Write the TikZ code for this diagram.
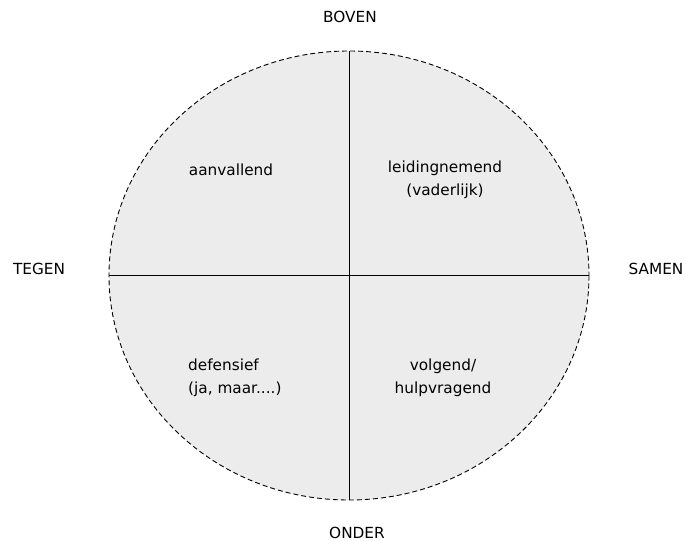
\documentclass[tikz,border=0pt]{standalone}
\usepackage{fontspec}
\setmainfont{DejaVu Sans}
\begin{document}
\begin{tikzpicture}[x=1pt,y=-1pt,
  lbl/.style={font=\fontsize{15.3}{22.5}\selectfont, inner sep=0pt, text=black},
  quad/.style={lbl, align=center},
  quadl/.style={lbl, align=left}]
\useasboundingbox (0,0) rectangle (686,541);
\fill[white] (0,0) rectangle (686,541);
\coordinate (c) at (349,275.5);
\fill[gray!15] (c) ellipse [x radius=240, y radius=224.5];
\draw[line width=0.9pt, dash pattern=on 5pt off 3pt] (c) ellipse [x radius=240, y radius=224.5];
\coordinate (top) at (349,51);
\coordinate (bot) at (349,500);
\coordinate (lft) at (109,275.5);
\coordinate (rgt) at (589,275.5);
\draw[line width=0.9pt] (top) -- (bot);
\draw[line width=0.9pt] (lft) -- (rgt);
\node[lbl] (boven) at (350,17) {BOVEN};
\node[lbl] (onder) at (357,533) {ONDER};
\node[lbl] (tegen) at (39,269) {TEGEN};
\node[lbl] (samen) at (656,269) {SAMEN};
\node[lbl] (aan) at (231,170) {aanvallend};
\node[quad] (leid) at (445,180) {leidingnemend\\(vaderlijk)};
\node[quadl, anchor=west] (def) at (188,378) {defensief\\(ja, maar....)};
\node[quad] (volg) at (443,378) {volgend/\\hulpvragend};
\end{tikzpicture}
\end{document}
